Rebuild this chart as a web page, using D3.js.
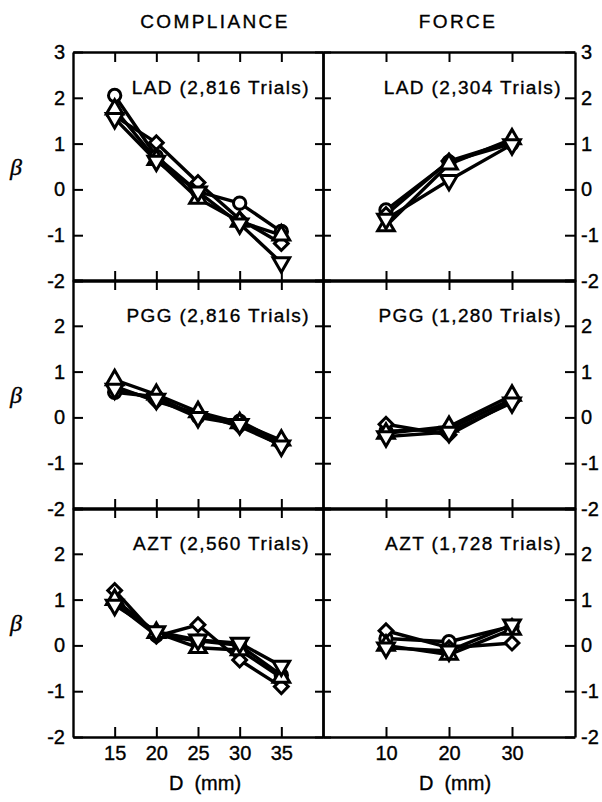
<!DOCTYPE html>
<html>
<head>
<meta charset="utf-8">
<script src="https://cdn.jsdelivr.net/npm/d3@7"></script>
<style>
body{margin:0;background:#fff}
svg text{font-family:"Liberation Sans",Arial,sans-serif;fill:#000;stroke:#000;stroke-width:0.35px}
</style>
</head>
<body>
<svg id="graphContainer"></svg>
<script>
/*Données*/
const complianceD=[15,20,25,30,35]
const forceD=[10,20,30]
const yTicks=[-2,-1,0,1,2,3]
const columnTitles=['COMPLIANCE','FORCE']
const drugs=['LAD','PGG','AZT']
const complianceTrials=['2,816','2,816','2,560']
const forceTrials=['2,304','1,280','1,728']
const seriesShapes=['circle','diamond','triangleUp','triangleDown']

/*une ligne = une série (cercle, losange, triangle haut, triangle bas)*/
const ladCompliance=[
  [2.05,0.72,-0.05,-0.3,-0.92],
  [1.6,1.02,0.15,-0.65,-1.18],
  [1.75,0.65,-0.2,-0.7,-1.0],
  [1.55,0.62,-0.05,-0.75,-1.6]
]
const pggCompliance=[
  [0.55,0.45,0.02,-0.08,-0.55],
  [0.68,0.35,0.08,-0.2,-0.6],
  [0.82,0.5,0.12,-0.12,-0.5],
  [0.62,0.4,0.0,-0.15,-0.62]
]
const aztCompliance=[
  [0.92,0.22,0.1,0.0,-0.65],
  [1.2,0.2,0.45,-0.32,-0.9],
  [1.0,0.28,-0.05,-0.1,-0.7],
  [0.88,0.3,0.12,0.05,-0.45]
]
const ladForce=[
  [-0.45,0.6,1.0],
  [-0.55,0.62,1.05],
  [-0.8,0.55,1.1],
  [-0.65,0.2,0.98]
]
const pggForce=[
  [-0.3,-0.25,0.4],
  [-0.15,-0.38,0.35],
  [-0.35,-0.2,0.48],
  [-0.42,-0.32,0.32]
]
const aztForce=[
  [0.15,0.08,0.42],
  [0.32,-0.05,0.05],
  [0.0,-0.2,0.35],
  [-0.05,-0.12,0.45]
]

const width=602,
height=802

const columns=[
  {x0:73,x1:323,domain:[10,40],ticks:complianceD,data:[ladCompliance,pggCompliance,aztCompliance],trials:complianceTrials},
  {x0:323,x1:575,domain:[0,40],ticks:forceD,data:[ladForce,pggForce,aztForce],trials:forceTrials}
]
const rowTops=[52,280,508],
rowHeight=229

let svgContainer=d3.select('#graphContainer')
                   .attr('width',width)
                   .attr('height',height)

/*Forme des marqueurs*/
const markerPath=(shape)=>{
    if(shape==='circle'){
        return d3.symbol().type(d3.symbolCircle).size(120)()
    }else if(shape==='diamond'){
        return d3.symbol().type(d3.symbolSquare).size(95)()
    }else{
        return d3.symbol().type(d3.symbolTriangle).size(120)()
    }
}
const markerRotate=(shape)=>{
    if(shape==='diamond') return 45
    if(shape==='triangleDown') return 180
    return 0
}

const styleAxis=(g)=>{
    g.attr('font-size',20)
     .attr('font-family','"Liberation Sans",Arial,sans-serif')
    g.select('.domain').attr('stroke-width',2.4)
    g.selectAll('.tick line').attr('stroke-width',2)
}

/*Dessine un panneau*/
const drawPanel=(col,c,r)=>{
    const top=rowTops[r],
    bottom=top+rowHeight

    let xScale=d3.scaleLinear()
                 .domain(col.domain)
                 .range([col.x0,col.x1])
    let yScale=d3.scaleLinear()
                 .domain([-2,3])
                 .range([bottom,top])

    const yLabels=r===0?yTicks:yTicks.filter(d=>d<3)

    /*axe y gauche*/
    let leftAxis=d3.axisLeft(yScale)
                   .tickValues(yTicks)
                   .tickSizeInner(c===0?-10:8)
                   .tickSizeOuter(0)
                   .tickPadding(8)
                   .tickFormat(d=>(c===0&&yLabels.includes(d))?String(d):'')
    svgContainer.append('g')
                .attr('transform','translate('+col.x0+',0)')
                .call(leftAxis)
                .call(styleAxis)

    /*axe y droit*/
    let rightAxis=d3.axisRight(yScale)
                    .tickValues(yTicks)
                    .tickSizeInner(c===1?-10:8)
                    .tickSizeOuter(0)
                    .tickPadding(6)
                    .tickFormat(d=>(c===1&&yLabels.includes(d))?String(d):'')
    svgContainer.append('g')
                .attr('transform','translate('+col.x1+',0)')
                .call(rightAxis)
                .call(styleAxis)

    /*axe x haut*/
    let topAxis=d3.axisBottom(xScale)
                  .tickValues(col.ticks)
                  .tickSizeInner(10)
                  .tickSizeOuter(0)
                  .tickFormat('')
    svgContainer.append('g')
                .attr('transform','translate(0,'+top+')')
                .call(topAxis)
                .call(styleAxis)

    /*axe x bas*/
    let bottomAxis=d3.axisBottom(xScale)
                     .tickValues(col.ticks)
                     .tickSizeInner(-10)
                     .tickSizeOuter(0)
                     .tickPadding(9)
                     .tickFormat(d=>r===2?String(d):'')
    svgContainer.append('g')
                .attr('transform','translate(0,'+bottom+')')
                .call(bottomAxis)
                .call(styleAxis)

    /*titre du panneau*/
    svgContainer.append('text')
                .attr('x',col.x1-13)
                .attr('y',top+42)
                .attr('text-anchor','end')
                .style('font-size','19px')
                .style('letter-spacing','1.4px')
                .text(drugs[r]+' ('+col.trials[r]+' Trials)')

    /*séries*/
    const series=col.data[r]
    let line=d3.line()
               .x((d,i)=>xScale(col.ticks[i]))
               .y(d=>yScale(d))

    series.forEach((values)=>{
        svgContainer.append('path')
                    .datum(values)
                    .attr('fill','none')
                    .attr('stroke','#000')
                    .attr('stroke-width',3.4)
                    .attr('stroke-linejoin','round')
                    .attr('d',line)
    })
    series.forEach((values,s)=>{
        const shape=seriesShapes[s]
        svgContainer.selectAll(null)
                    .data(values)
                    .enter()
                    .append('path')
                    .attr('d',markerPath(shape))
                    .attr('transform',(d,i)=>'translate('+xScale(col.ticks[i])+','+yScale(d)+') rotate('+markerRotate(shape)+')')
                    .attr('fill','#fff')
                    .attr('stroke','#000')
                    .attr('stroke-width',3)
    })
}

columns.forEach((col,c)=>{
    rowTops.forEach((top,r)=>drawPanel(col,c,r))

    /*titre de colonne*/
    svgContainer.append('text')
                .attr('x',c===0?215:458)
                .attr('y',28)
                .attr('text-anchor','middle')
                .style('font-size','19px')
                .style('letter-spacing','2.4px')
                .text(columnTitles[c])

    /*nom de l'axe x*/
    svgContainer.append('text')
                .attr('x',c===0?205:455)
                .attr('y',790)
                .attr('text-anchor','middle')
                .style('font-size','20px')
                .style('white-space','pre')
                .text('D  (mm)')
})

/*lettre beta*/
rowTops.forEach((top)=>{
    svgContainer.append('text')
                .attr('x',16)
                .attr('y',top+rowHeight/2+8)
                .attr('text-anchor','middle')
                .style('font-family','"Liberation Serif",serif')
                .style('font-style','italic')
                .style('font-size','24px')
                .text('β')
})
</script>
</body>
</html>
